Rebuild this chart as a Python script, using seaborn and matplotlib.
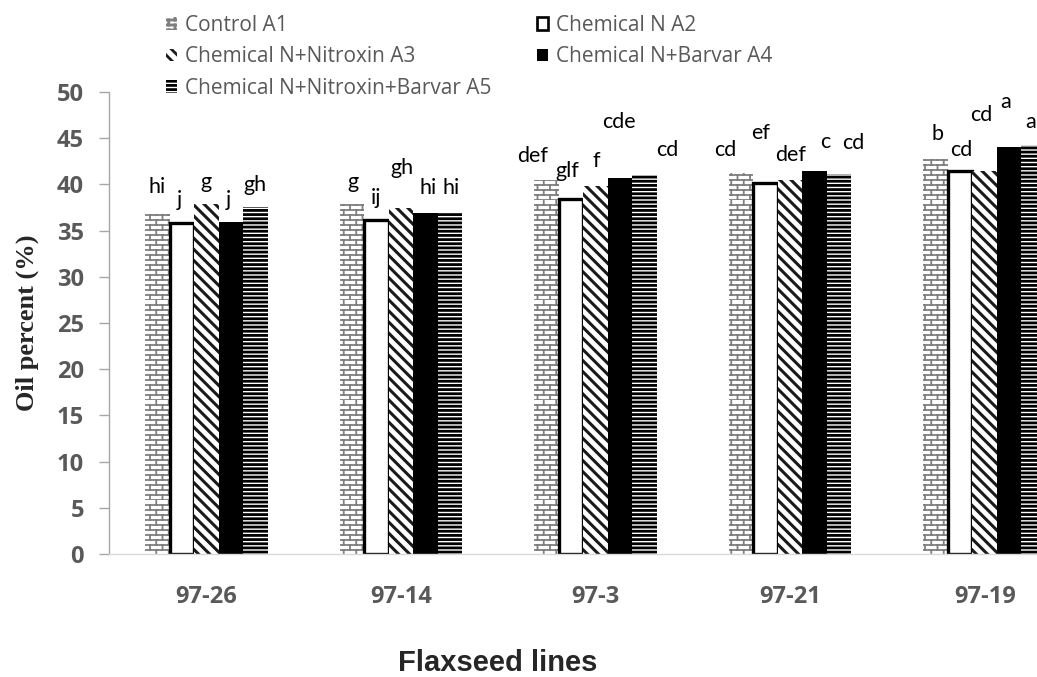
import matplotlib
matplotlib.use("Agg")
import matplotlib.pyplot as plt
import matplotlib.patches as mpatches
import matplotlib.hatch as mhatch
from matplotlib.path import Path
import seaborn as sns
import pandas as pd

# ---------------- data ----------------
lines = ["97-26", "97-14", "97-3", "97-21", "97-19"]
treatments = ["Control A1", "Chemical N A2", "Chemical N+Nitroxin A3",
              "Chemical N+Barvar A4", "Chemical N+Nitroxin+Barvar A5"]
a1 = [36.8, 37.9, 40.5, 41.2, 42.8]
a2 = [35.8, 36.2, 38.4, 40.2, 41.4]
a3 = [37.9, 37.4, 39.8, 40.5, 41.4]
a4 = [35.9, 36.9, 40.7, 41.5, 44.1]
a5 = [37.6, 36.9, 41.0, 41.1, 44.3]
l1 = ["hi", "g", "def", "cd", "b"]
l2 = ["j", "ij", "glf", "ef", "cd"]
l3 = ["g", "gh", "f", "def", "cd"]
l4 = ["j", "hi", "cde", "c", "a"]
l5 = ["gh", "hi", "cd", "cd", "a"]
yticks = [0, 5, 10, 15, 20, 25, 30, 35, 40, 45, 50]

# label placement (layout only)
lab_y = [[39.75, 40.3, 43.1, 43.7, 45.5],
         [38.3, 38.5, 41.4, 45.6, 43.7],
         [40.3, 41.8, 42.5, 43.2, 47.5],
         [38.3, 39.6, 46.7, 44.6, 48.9],
         [39.9, 39.6, 43.7, 44.5, 46.8]]
lab_dx = [[0, 1, -14, -16, 2],
          [-2, 0, -4, -5, 1],
          [0, 1, 1, 0, -3],
          [-2, 3, -1, 11, -4],
          [0, 1, 23, 14, -3]]

values = [a1, a2, a3, a4, a5]
letters = [l1, l2, l3, l4, l5]
df = pd.DataFrame({
    "line": [ln for _ in treatments for ln in lines],
    "treat": [t for t in treatments for _ in lines],
    "oil": [v for vals in values for v in vals],
})


# ---------------- custom brick hatch (bound to 'O') ----------------
class BrickHatch(mhatch.HatchPatternBase):
    rows = 20
    cols = 8

    def __init__(self, hatch, density):
        self.active = "O" in hatch
        self.num_vertices = (self.rows * 2 + self.rows * self.cols * 2) if self.active else 0

    def set_vertices_and_codes(self, vertices, codes):
        i = 0
        for r in range(self.rows):
            y = r / self.rows
            vertices[i] = (0, y); vertices[i + 1] = (1, y)
            codes[i] = Path.MOVETO; codes[i + 1] = Path.LINETO
            i += 2
        for r in range(self.rows):
            y0, y1 = r / self.rows, (r + 1) / self.rows
            off = 0 if r % 2 == 0 else 0.5 / self.cols
            for c in range(self.cols):
                x = c / self.cols + off
                vertices[i] = (x, y0); vertices[i + 1] = (x, y1)
                codes[i] = Path.MOVETO; codes[i + 1] = Path.LINETO
                i += 2


brick = "++"
try:
    for k, ht in enumerate(mhatch._hatch_types):
        if ht.__name__ == "LargeCircles":
            mhatch._hatch_types[k] = BrickHatch
            brick = "O"
except Exception:
    brick = "++"

# ---------------- styling ----------------
sns.set_theme(style="white")
plt.rcParams["font.family"] = ["Lato", "DejaVu Sans"]
plt.rcParams["hatch.linewidth"] = 2.0

fig = plt.figure(figsize=(10.37, 6.77), dpi=100)
ax = fig.add_axes([109 / 1037, 1 - 554 / 677, (1082 - 109) / 1037, (554 - 92) / 677])

sns.barplot(data=df, x="line", y="oil", hue="treat", order=lines,
            hue_order=treatments, width=0.63, gap=0, ax=ax,
            palette=["white"] * 5, saturation=1, legend=False, errorbar=None)

styles = [
    dict(facecolor="white", edgecolor="#7f7f7f", hatch=brick, linewidth=0, hlw=1.3),
    dict(facecolor="white", edgecolor="black", hatch=None, linewidth=2.4, hlw=2.0),
    dict(facecolor="white", edgecolor="#1a1a1a", hatch="\\\\\\", linewidth=0, hlw=2.2),
    dict(facecolor="black", edgecolor="black", hatch=None, linewidth=0, hlw=2.0),
    dict(facecolor="white", edgecolor="black", hatch="----", linewidth=0, hlw=2.0),
]


def apply_style(p, st):
    p.set_facecolor(st["facecolor"])
    p.set_edgecolor(st["edgecolor"])
    p.set_hatch(st["hatch"])
    p.set_linewidth(st["linewidth"])
    if hasattr(p, "set_hatch_linewidth"):
        try:
            p.set_hatch_linewidth(st["hlw"])
        except Exception:
            pass


for cont, st in zip(ax.containers, styles):
    for bar in cont:
        apply_style(bar, st)

# significance letters
for i, cont in enumerate(ax.containers):
    for j, bar in enumerate(cont):
        xc = bar.get_x() + bar.get_width() / 2
        ax.annotate(letters[i][j], xy=(xc, lab_y[i][j]), xytext=(lab_dx[i][j], 0),
                    textcoords="offset pixels", ha="center", va="center",
                    fontsize=15.5, color="black", family=["Lato", "DejaVu Sans"],
                    annotation_clip=False)

tick_font = ["Open Sans", "DejaVu Sans"]
ax.set_ylim(0, 50)
ax.set_xlim(-0.5, 4.5)
ax.set_yticks(yticks)
ax.set_yticklabels([str(t) for t in yticks], fontsize=17, fontweight="bold",
                   color="#595959", family=tick_font)
ax.set_xticks(range(len(lines)))
ax.set_xticklabels(lines, fontsize=17, fontweight="bold", color="#595959", family=tick_font)
ax.set_xticks([k - 0.5 for k in range(len(lines) + 1)], minor=True)
ax.tick_params(axis="x", which="major", length=0, pad=22)
ax.tick_params(axis="x", which="minor", length=10, color="#d9d9d9", width=1)
ax.tick_params(axis="y", length=7, color="#a6a6a6", width=1, pad=11, left=True)
for s in ["top", "right"]:
    ax.spines[s].set_visible(False)
ax.spines["left"].set_color("#a6a6a6")
ax.spines["bottom"].set_color("#d9d9d9")
ax.spines["left"].set_linewidth(1)
ax.spines["bottom"].set_linewidth(1)
ax.set_xlabel("")
ax.set_ylabel("Oil percent (%)", fontsize=19, fontweight="bold",
              family=["Liberation Serif", "DejaVu Serif"], labelpad=13)
ax.grid(False)

fig.text(498 / 1037, 1 - 663 / 677, "Flaxseed lines", ha="center", va="center",
         fontsize=21, fontweight="bold", family=["Liberation Sans", "DejaVu Sans"])

# legend (Excel-like, two independent columns)
handles = []
for t, st in zip(treatments, styles):
    h = mpatches.Patch(facecolor=st["facecolor"], edgecolor=st["edgecolor"],
                       hatch=st["hatch"], linewidth=st["linewidth"] * 0.8, label=t)
    handles.append(h)
leg_kw = dict(frameon=False, handlelength=0.53, handleheight=0.53,
              handletextpad=0.38, labelspacing=0.5, borderaxespad=0, borderpad=0,
              labelcolor="#595959", prop={"family": ["Open Sans", "DejaVu Sans"], "size": 15})
leg1 = fig.legend(handles=[handles[0], handles[2], handles[4]], loc="upper left",
                  bbox_to_anchor=(166 / 1037, 1 - 15 / 677), **leg_kw)
leg2 = fig.legend(handles=[handles[1], handles[3]], loc="upper left",
                  bbox_to_anchor=(537 / 1037, 1 - 15 / 677), **leg_kw)

fig.savefig("out.png", dpi=100)
